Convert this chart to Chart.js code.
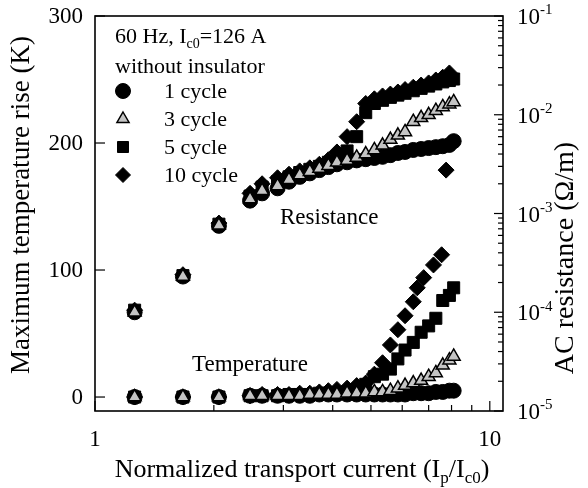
<!DOCTYPE html>
<html>
<head>
<meta charset="utf-8">
<script src="https://cdn.jsdelivr.net/npm/chart.js@4.4.1/dist/chart.umd.min.js"></script>
<style>
    html, body { margin: 0; padding: 0; background: #fff; }
    #chart { display: block; }
</style>
</head>
<body>
<canvas id="chart" width="588" height="488"></canvas>
<script>
// Normalized transport current I_p / I_c0
const currentX = [1.26, 1.67, 2.06, 2.47, 2.65, 2.9, 3.1, 3.3, 3.5, 3.7, 3.9, 4.1, 4.35, 4.6, 4.85, 5.1, 5.35, 5.6, 5.85, 6.1, 6.4, 6.7, 7.0, 7.3, 7.6, 7.9, 8.1];
const currentX10Res = [1.26, 1.67, 2.06, 2.47, 2.65, 2.9, 3.1, 3.3, 3.5, 3.7, 3.9, 4.1, 4.35, 4.6, 4.85, 5.1, 5.35, 5.6, 5.85, 6.1, 6.4, 6.7, 7.0, 7.3, 7.6, 7.75, 7.9];
const currentX10Temp = [1.26, 1.67, 2.06, 2.47, 2.65, 2.9, 3.1, 3.3, 3.5, 3.7, 3.9, 4.1, 4.35, 4.6, 4.85, 5.1, 5.35, 5.6, 5.85, 6.1, 6.4, 6.55, 6.8, 7.2, 7.55];

// AC resistance (Ohm/m)
const res1 = [1.0e-4, 2.3e-4, 7.5e-4, 1.35e-3, 1.6e-3, 1.8e-3, 2.1e-3, 2.35e-3, 2.55e-3, 2.75e-3, 2.95e-3, 3.15e-3, 3.3e-3, 3.45e-3, 3.55e-3, 3.65e-3, 3.75e-3, 3.9e-3, 4.1e-3, 4.2e-3, 4.4e-3, 4.5e-3, 4.6e-3, 4.7e-3, 4.8e-3, 4.95e-3, 5.4e-3];
const res3 = [1.0e-4, 2.3e-4, 7.6e-4, 1.4e-3, 1.7e-3, 1.9e-3, 2.2e-3, 2.45e-3, 2.65e-3, 2.85e-3, 3.05e-3, 3.3e-3, 3.45e-3, 3.7e-3, 4.0e-3, 4.4e-3, 4.9e-3, 5.6e-3, 6.2e-3, 6.7e-3, 8.5e-3, 9.3e-3, 1.0e-2, 1.1e-2, 1.2e-2, 1.28e-2, 1.35e-2];
const res5 = [1.05e-4, 2.35e-4, 7.8e-4, 1.5e-3, 1.85e-3, 2.1e-3, 2.35e-3, 2.6e-3, 2.8e-3, 3.0e-3, 3.3e-3, 3.7e-3, 4.3e-3, 6.0e-3, 1.05e-2, 1.3e-2, 1.4e-2, 1.5e-2, 1.58e-2, 1.65e-2, 1.75e-2, 1.85e-2, 1.95e-2, 2.05e-2, 2.15e-2, 2.22e-2, 2.3e-2];
const res10 = [1.05e-4, 2.4e-4, 8.0e-4, 1.6e-3, 2.0e-3, 2.3e-3, 2.5e-3, 2.7e-3, 2.9e-3, 3.15e-3, 3.5e-3, 4.2e-3, 6.0e-3, 8.5e-3, 1.3e-2, 1.45e-2, 1.55e-2, 1.62e-2, 1.7e-2, 1.8e-2, 1.9e-2, 2.0e-2, 2.1e-2, 2.25e-2, 2.4e-2, 2.75e-3, 2.65e-2];

// Maximum temperature rise (K)
const temp1 = [0, 0, 0, 1, 1, 1, 1, 1, 1, 2, 2, 2, 2, 2, 2, 2, 2, 2, 2, 2, 3, 3, 3, 4, 4, 5, 5];
const temp3 = [0, 0, 0, 1, 1, 1, 1, 1, 2, 2, 2, 2, 3, 3, 3, 4, 4, 5, 7, 9, 11, 13, 16, 19, 25, 29, 32];
const temp5 = [0, 0, 0, 1, 1, 1, 2, 2, 2, 3, 3, 3, 4, 6, 10, 16, 18, 22, 30, 37, 43, 51, 56, 62, 76, 80, 86];
const temp10 = [0, 0, 0, 1, 2, 2, 2, 3, 3, 4, 5, 6, 7, 9, 11, 18, 27, 41, 53, 64, 75, 86, 94, 104, 112];

// Tick labels
const currentTicks = [1, 10];
const currentMinorTicks = [2, 3, 4, 5, 6, 7, 8, 9];
const tempTicks = [0, 100, 200, 300];
const resTicks = [1e-5, 1e-4, 1e-3, 1e-2, 1e-1];
const resTickExp = ['-5', '-4', '-3', '-2', '-1'];
const seriesLabels = ['1 cycle', '3 cycle', '5 cycle', '10 cycle'];

const FONT = '"Liberation Serif", "Times New Roman", serif';

function points(xs, ys) {
    return xs.map((x, i) => ({ x: x, y: ys[i] }));
}

// 标记样式
const styles = {
    circle: { pointStyle: 'circle', pointRadius: 7.5, backgroundColor: '#000', borderColor: '#000', borderWidth: 1 },
    triangle: { pointStyle: 'triangle', pointRadius: 7.5, backgroundColor: '#c4c4c4', borderColor: '#000', borderWidth: 1.5 },
    rect: { pointStyle: 'rect', pointRadius: 8.5, backgroundColor: '#000', borderColor: '#000', borderWidth: 1 },
    diamond: { pointStyle: 'rectRot', pointRadius: 8, backgroundColor: '#000', borderColor: '#000', borderWidth: 1 }
};

function dataset(label, data, axis, style) {
    return Object.assign({ label: label, data: data, yAxisID: axis, showLine: false, pointHoverRadius: 0 }, style);
}

/**
 * Draw text made of runs: [text, 0 normal | 1 sub | 2 sup]
 */
function drawRuns(ctx, runs, x, y, size, align) {
    const small = Math.round(size * 0.65);
    const widthOf = r => {
        ctx.font = (r[1] ? small : size) + 'px ' + FONT;
        return ctx.measureText(r[0]).width;
    };
    const total = runs.reduce((s, r) => s + widthOf(r), 0);
    let cx = align === 'center' ? x - total / 2 : (align === 'right' ? x - total : x);
    ctx.textAlign = 'left';
    ctx.textBaseline = 'alphabetic';
    runs.forEach(r => {
        const w = widthOf(r);
        const dy = r[1] === 1 ? size * 0.22 : (r[1] === 2 ? -size * 0.42 : 0);
        ctx.fillText(r[0], cx, y + dy);
        cx += w;
    });
}

function drawMarker(ctx, kind, x, y, r) {
    ctx.beginPath();
    if (kind === 'circle') {
        ctx.arc(x, y, r, 0, Math.PI * 2);
    } else if (kind === 'triangle') {
        ctx.moveTo(x, y - r);
        ctx.lineTo(x + r * 0.866, y + r * 0.5);
        ctx.lineTo(x - r * 0.866, y + r * 0.5);
        ctx.closePath();
    } else if (kind === 'rect') {
        ctx.rect(x - r, y - r, 2 * r, 2 * r);
    } else {
        ctx.moveTo(x, y - r);
        ctx.lineTo(x + r, y);
        ctx.lineTo(x, y + r);
        ctx.lineTo(x - r, y);
        ctx.closePath();
    }
    ctx.fill();
    ctx.stroke();
}

// 坐标轴、刻度、图例、注释
const paperPlugin = {
    id: 'paper',
    afterDraw(chart) {
        const ctx = chart.ctx;
        const { left, right, top, bottom } = chart.chartArea;
        const sx = chart.scales.x, sT = chart.scales.yT, sR = chart.scales.yR;

        ctx.save();
        ctx.strokeStyle = '#000';
        ctx.fillStyle = '#000';
        ctx.lineCap = 'butt';

        const tick = (x1, y1, x2, y2) => {
            ctx.beginPath();
            ctx.moveTo(x1, y1);
            ctx.lineTo(x2, y2);
            ctx.stroke();
        };

        // frame
        ctx.lineWidth = 1.6;
        ctx.strokeRect(left, top, right - left, bottom - top);

        // ticks, pointing inward
        ctx.lineWidth = 1.2;
        currentTicks.forEach(v => { const p = sx.getPixelForValue(v); tick(p, bottom, p, bottom - 10); });
        currentMinorTicks.forEach(v => { const p = sx.getPixelForValue(v); tick(p, bottom, p, bottom - 6); });
        tempTicks.forEach(v => { const p = sT.getPixelForValue(v); tick(left, p, left + 10, p); });
        resTicks.forEach(v => { const p = sR.getPixelForValue(v); tick(right, p, right - 9, p); });
        for (let d = -5; d < -1; d++) {
            for (let m = 2; m <= 9; m++) {
                const p = sR.getPixelForValue(m * Math.pow(10, d));
                tick(right, p, right - 5, p);
            }
        }

        // tick labels
        ctx.font = '23px ' + FONT;
        ctx.textBaseline = 'middle';
        ctx.textAlign = 'right';
        tempTicks.forEach(v => ctx.fillText(String(v), 83, sT.getPixelForValue(v) + 1));
        ctx.textAlign = 'center';
        currentTicks.forEach(v => ctx.fillText(String(v), sx.getPixelForValue(v), 440));
        resTicks.forEach((v, i) => {
            const p = sR.getPixelForValue(v);
            drawRuns(ctx, [['10', 0], [resTickExp[i], 2]], 517, p + 8, 23, 'left');
        });

        // axis titles
        drawRuns(ctx, [['Normalized transport current (I', 0], ['p', 1], ['/I', 0], ['c0', 1], [')', 0]], 302, 477, 26, 'center');

        ctx.save();
        ctx.translate(29, 205);
        ctx.rotate(-Math.PI / 2);
        drawRuns(ctx, [['Maximum temperature rise (K)', 0]], 0, 0, 27, 'center');
        ctx.restore();

        ctx.save();
        ctx.translate(573, 258);
        ctx.rotate(-Math.PI / 2);
        drawRuns(ctx, [['AC resistance (\u03A9/m)', 0]], 0, 0, 28, 'center');
        ctx.restore();

        // legend block
        drawRuns(ctx, [['60 Hz, I', 0], ['c0', 1], ['=126 A', 0]], 115, 43, 22, 'left');
        drawRuns(ctx, [['without insulator', 0]], 115, 73, 22, 'left');
        const rows = [
            ['circle', 91, 7.5, '#000'],
            ['triangle', 119, 7, '#c4c4c4'],
            ['rect', 147, 5.5, '#000'],
            ['diamond', 175, 7.5, '#000']
        ];
        rows.forEach((row, i) => {
            ctx.fillStyle = row[3];
            ctx.lineWidth = row[0] === 'triangle' ? 1.5 : 1;
            drawMarker(ctx, row[0], 123, row[1], row[2]);
            ctx.fillStyle = '#000';
            drawRuns(ctx, [[seriesLabels[i], 0]], 164, row[1] + 7, 22, 'left');
        });

        // curve annotations
        drawRuns(ctx, [['Resistance', 0]], 280, 224, 23, 'left');
        drawRuns(ctx, [['Temperature', 0]], 192, 371, 23, 'left');

        ctx.restore();
    }
};

const chart = new Chart(document.getElementById('chart'), {
    type: 'scatter',
    data: {
        datasets: [
            dataset('3 cycle R', points(currentX, res3), 'yR', styles.triangle),
            dataset('3 cycle T', points(currentX, temp3), 'yT', styles.triangle),
            dataset('10 cycle R', points(currentX10Res, res10), 'yR', styles.diamond),
            dataset('10 cycle T', points(currentX10Temp, temp10), 'yT', styles.diamond),
            dataset('5 cycle R', points(currentX, res5), 'yR', styles.rect),
            dataset('5 cycle T', points(currentX, temp5), 'yT', styles.rect),
            dataset('1 cycle R', points(currentX, res1), 'yR', styles.circle),
            dataset('1 cycle T', points(currentX, temp1), 'yT', styles.circle)
        ]
    },
    options: {
        responsive: false,
        animation: false,
        devicePixelRatio: 1,
        layout: { padding: { top: 16, left: 0, right: 0, bottom: 0 } },
        plugins: {
            legend: { display: false },
            tooltip: { enabled: false }
        },
        scales: {
            x: {
                type: 'logarithmic',
                position: 'bottom',
                min: 1,
                max: 10.8,
                ticks: { display: false },
                grid: { display: false },
                border: { display: false },
                afterFit: s => { s.height = 77; }
            },
            yT: {
                type: 'linear',
                position: 'left',
                min: -11,
                max: 300,
                ticks: { display: false },
                grid: { display: false },
                border: { display: false },
                afterFit: s => { s.width = 95; }
            },
            yR: {
                type: 'logarithmic',
                position: 'right',
                min: 1e-5,
                max: 1e-1,
                ticks: { display: false },
                grid: { display: false },
                border: { display: false },
                afterFit: s => { s.width = 85; }
            }
        }
    },
    plugins: [paperPlugin]
});
</script>
</body>
</html>
